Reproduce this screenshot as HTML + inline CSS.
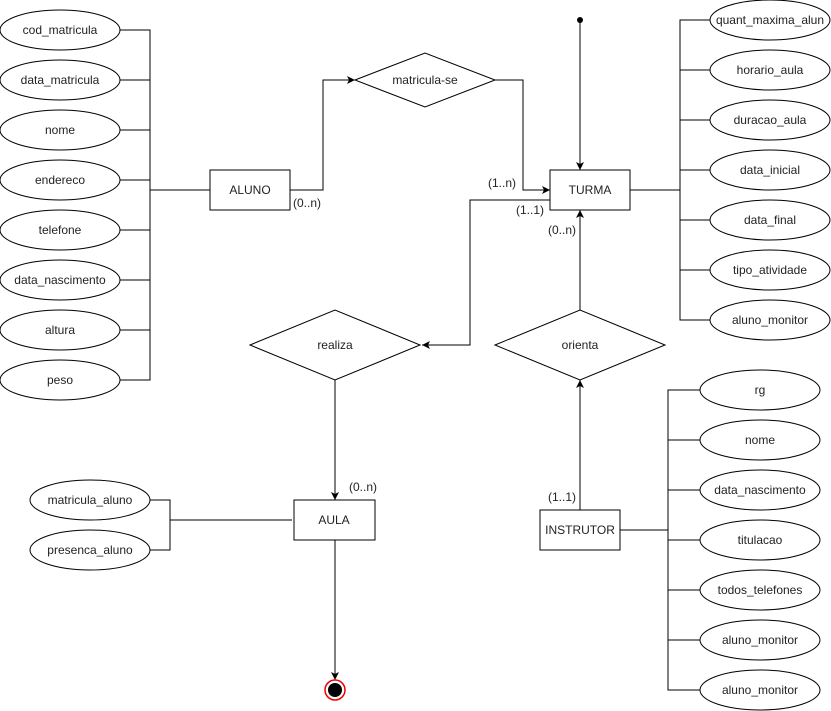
<!DOCTYPE html>
<html><head><meta charset="utf-8"><style>html,body{margin:0;padding:0;background:#fff}svg{display:block}text{font-family:"Liberation Sans",sans-serif;font-size:12px;fill:#222}</style></head><body>
<svg width="831" height="711" viewBox="0 0 831 711" xmlns="http://www.w3.org/2000/svg">
<defs><marker id="a" markerWidth="10" markerHeight="10" refX="9" refY="5" orient="auto" markerUnits="userSpaceOnUse"><path d="M1,1 L9,5 L1,9 L3,5 z" fill="#000"/></marker></defs>
<g fill="#fff" stroke="#000" stroke-width="1">
<ellipse cx="60" cy="30" rx="60" ry="20"/><ellipse cx="60" cy="80" rx="60" ry="20"/><ellipse cx="60" cy="130" rx="60" ry="20"/><ellipse cx="60" cy="180" rx="60" ry="20"/><ellipse cx="60" cy="230" rx="60" ry="20"/><ellipse cx="60" cy="280" rx="60" ry="20"/><ellipse cx="60" cy="330" rx="60" ry="20"/><ellipse cx="60" cy="380" rx="60" ry="20"/>
<ellipse cx="770" cy="20" rx="60" ry="20"/><ellipse cx="770" cy="70" rx="60" ry="20"/><ellipse cx="770" cy="120" rx="60" ry="20"/><ellipse cx="770" cy="170" rx="60" ry="20"/><ellipse cx="770" cy="220" rx="60" ry="20"/><ellipse cx="770" cy="270" rx="60" ry="20"/><ellipse cx="770" cy="320" rx="60" ry="20"/>
<ellipse cx="760" cy="390" rx="60" ry="20"/><ellipse cx="760" cy="440" rx="60" ry="20"/><ellipse cx="760" cy="490" rx="60" ry="20"/><ellipse cx="760" cy="540" rx="60" ry="20"/><ellipse cx="760" cy="590" rx="60" ry="20"/><ellipse cx="760" cy="640" rx="60" ry="20"/><ellipse cx="760" cy="690" rx="60" ry="20"/>
<ellipse cx="90" cy="500" rx="60" ry="20"/><ellipse cx="90" cy="550" rx="60" ry="20"/>
<rect x="210" y="170" width="80" height="40"/><rect x="550" y="170" width="80" height="40"/><rect x="294" y="500" width="81" height="40"/><rect x="540" y="510" width="80" height="40"/>
<polygon points="355,80 425,53 495,80 425,107"/><polygon points="250,345 335,310 420,345 335,380"/><polygon points="495,345 580,310 665,345 580,380"/>
</g>
<g fill="none" stroke="#000" stroke-width="1">
<path d="M120,30H150V380H120M120,80H150M120,130H150M120,180H150M120,230H150M120,280H150M120,330H150M150,190H210"/>
<path d="M710,20H680V320H710M710,70H680M710,120H680M710,170H680M710,220H680M710,270H680M630,190H680"/>
<path d="M700,390H668V690H700M700,440H668M700,490H668M700,540H668M700,590H668M700,640H668M620,530H668"/>
<path d="M150,500H170V550H150M170,520H292"/>
<path d="M290,190H323V80H355" marker-end="url(#a)"/>
<path d="M495,80H523V190H550" marker-end="url(#a)"/>
<path d="M550,200H470V345H422" marker-end="url(#a)"/>
<path d="M580,20V170" marker-end="url(#a)"/>
<path d="M335,380V500" marker-end="url(#a)"/>
<path d="M335,540V680" marker-end="url(#a)"/>
<path d="M580,510V380" marker-end="url(#a)"/>
<path d="M580,310V210" marker-end="url(#a)"/>
</g>
<circle cx="580" cy="20" r="3" fill="#000"/>
<circle cx="335" cy="690" r="10" fill="#fff" stroke="#e00" stroke-width="1.5"/><circle cx="335" cy="690" r="7" fill="#000"/>
<g text-anchor="middle">
<text x="60" y="34">cod_matricula</text><text x="60" y="84">data_matricula</text><text x="60" y="134">nome</text><text x="60" y="184">endereco</text><text x="60" y="234">telefone</text><text x="60" y="284">data_nascimento</text><text x="60" y="334">altura</text><text x="60" y="384">peso</text>
<text x="770" y="24">quant_maxima_alun</text><text x="770" y="74">horario_aula</text><text x="770" y="124">duracao_aula</text><text x="770" y="174">data_inicial</text><text x="770" y="224">data_final</text><text x="770" y="274">tipo_atividade</text><text x="770" y="324">aluno_monitor</text>
<text x="760" y="394">rg</text><text x="760" y="444">nome</text><text x="760" y="494">data_nascimento</text><text x="760" y="544">titulacao</text><text x="760" y="594">todos_telefones</text><text x="760" y="644">aluno_monitor</text><text x="760" y="694">aluno_monitor</text>
<text x="90" y="504">matricula_aluno</text><text x="90" y="554">presenca_aluno</text>
<text x="250" y="194">ALUNO</text><text x="590" y="194">TURMA</text><text x="334" y="524">AULA</text><text x="580" y="534">INSTRUTOR</text>
<text x="425" y="84">matricula-se</text><text x="335" y="349">realiza</text><text x="580" y="349">orienta</text>
<text x="307" y="207">(0..n)</text><text x="502" y="187">(1..n)</text><text x="530" y="214">(1..1)</text><text x="562" y="234">(0..n)</text><text x="363" y="491">(0..n)</text><text x="562" y="501">(1..1)</text>
</g>
</svg>
</body></html>
